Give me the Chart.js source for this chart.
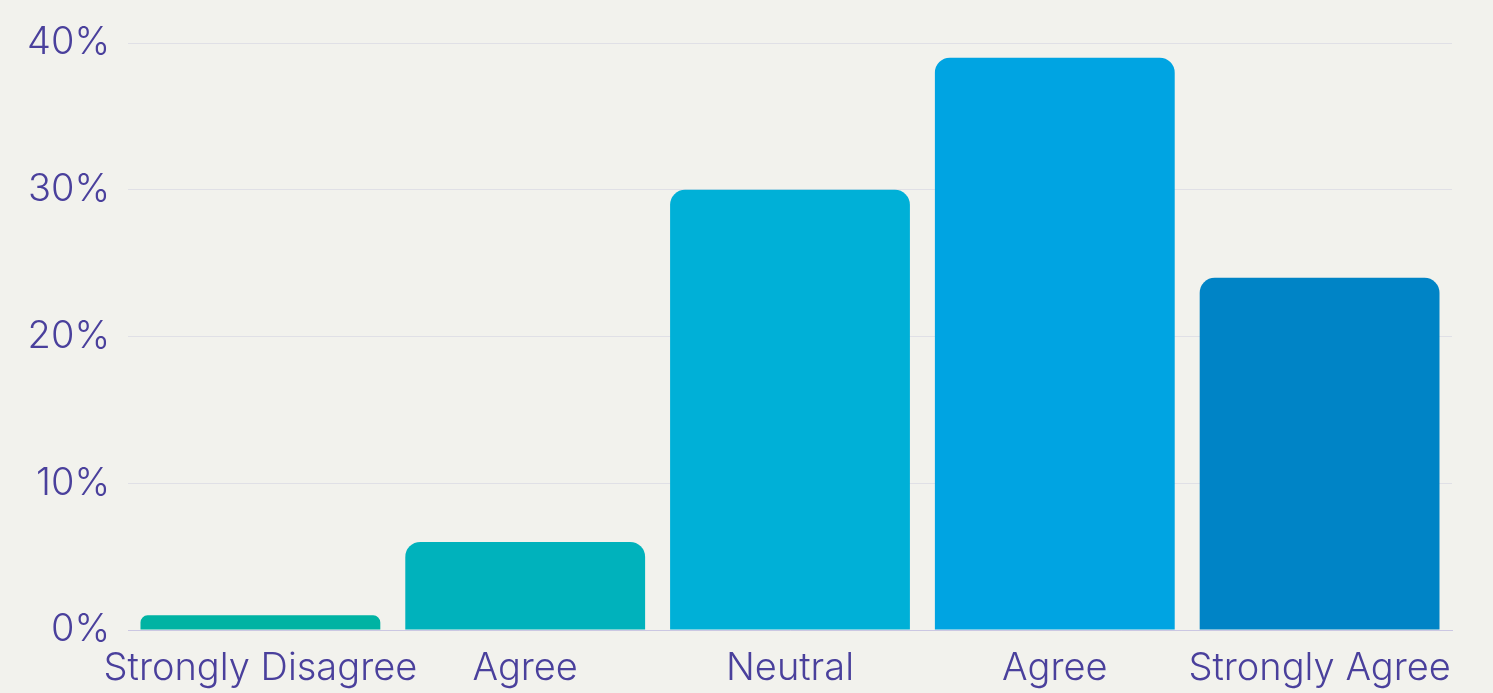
<!DOCTYPE html>
<html>
<head>
<meta charset="utf-8">
<script src="https://cdn.jsdelivr.net/npm/chart.js@4/dist/chart.umd.min.js"></script>
<style>
  html, body { margin: 0; padding: 0; background: #f2f2ed; }
  #wrap { width: 1493px; height: 693px; position: relative; }
</style>
</head>
<body>
<div id="wrap"><canvas id="c" width="1493" height="693"></canvas></div>
<script>
const categories = ["Strongly Disagree", "Agree", "Neutral", "Agree", "Strongly Agree"];
const values = [1, 6, 30, 39, 24];
const barColors = ["#00b3a3", "#00b2bc", "#00b0d7", "#00a4e2", "#0084c6"];
const yTicks = [0, 10, 20, 30, 40];

const textColor = "#4a409c";
const fontFamily = "Inter, 'Noto Sans', sans-serif";

new Chart(document.getElementById("c"), {
  type: "bar",
  data: {
    labels: categories,
    datasets: [{
      data: values,
      backgroundColor: barColors,
      borderWidth: 0,
      borderRadius: 15,
      borderSkipped: "start",
      barPercentage: 240 / 265,
      categoryPercentage: 1
    }]
  },
  options: {
    responsive: false,
    animation: false,
    layout: { padding: { top: 43, right: 41, bottom: 0, left: 0 } },
    plugins: { legend: { display: false }, tooltip: { enabled: false } },
    scales: {
      x: {
        grid: { display: false },
        border: { display: true, color: "#cbc7e2", width: 1 },
        ticks: {
          color: textColor,
          font: { family: fontFamily, size: 38, weight: 300 },
          padding: 8,
          maxRotation: 0,
          autoSkip: false
        },
        afterFit: (s) => { s.height = 63; }
      },
      y: {
        min: 0,
        max: 40,
        afterBuildTicks: (s) => { s.ticks = yTicks.map(v => ({ value: v })); },
        grid: { color: "#e0e0e6", drawTicks: false, lineWidth: 1 },
        border: { display: false },
        ticks: {
          color: textColor,
          font: { family: fontFamily, size: 38, weight: 300 },
          padding: 18,
          callback: (v) => v + "%"
        },
        afterFit: (s) => { s.width = 128; }
      }
    }
  }
});
</script>
</body>
</html>
